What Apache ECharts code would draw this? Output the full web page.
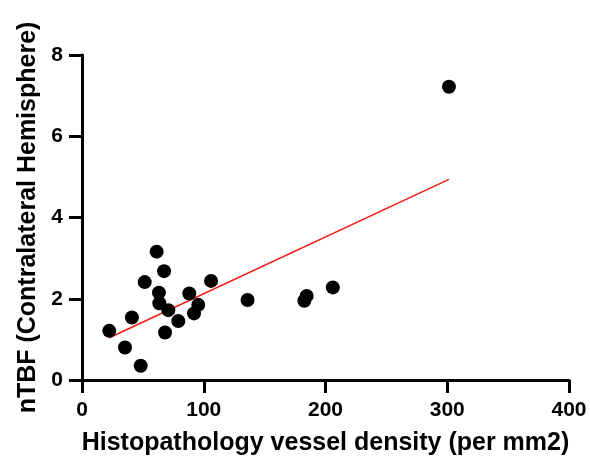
<!DOCTYPE html>
<html><head><meta charset="utf-8">
<script src="https://cdn.jsdelivr.net/npm/echarts@6/dist/echarts.min.js"></script>
<style>html,body{margin:0;padding:0;background:#fff}#c{width:590px;height:462px}</style>
</head><body><div id="c"></div>
<script>
const vesselDensity = [22.4,35.3,41,48.2,51.5,61.3,67.4,63.2,63.5,70.9,68.2,79.1,88.1,95.5,92,106,136,184.5,182.6,206,301.4];
const ntbf = [1.21,0.80,1.54,0.35,2.41,3.16,2.68,2.15,1.89,1.72,1.17,1.45,2.13,1.85,1.64,2.44,1.97,2.07,1.95,2.28,7.22];
const fitLineX = [22.4, 301.4];
const fitLineY = [1.04, 4.94];
const xTicks = [0,100,200,300,400];
const yTicks = [0,2,4,6,8];

const chart = echarts.init(document.getElementById('c'));
const font = '"Liberation Sans", Arial, sans-serif';
chart.setOption({
  animation:false,
  grid:{left:82,right:21,top:55,bottom:82,containLabel:false},
  xAxis:{type:'value',min:xTicks[0],max:xTicks[xTicks.length-1],interval:100,
    name:'Histopathology vessel density (per mm2)',nameLocation:'middle',nameGap:51,
    nameTextStyle:{fontFamily:font,fontWeight:'bold',fontSize:25,color:'#000'},
    axisLine:{show:true,lineStyle:{color:'#000',width:3}},
    axisTick:{show:true,length:13,lineStyle:{color:'#000',width:3}},
    axisLabel:{fontFamily:font,fontWeight:'bold',fontSize:21,color:'#000',margin:20},
    splitLine:{show:false}},
  yAxis:{type:'value',min:yTicks[0],max:yTicks[yTicks.length-1],interval:2,
    name:'nTBF (Contralateral Hemisphere)',nameLocation:'middle',nameGap:41,
    nameTextStyle:{fontFamily:font,fontWeight:'bold',fontSize:25,color:'#000'},
    axisLine:{show:true,lineStyle:{color:'#000',width:3}},
    axisTick:{show:true,length:13,lineStyle:{color:'#000',width:3}},
    axisLabel:{fontFamily:font,fontWeight:'bold',fontSize:21,color:'#000',margin:19},
    splitLine:{show:false}},
  series:[
    {type:'line',data:fitLineX.map((x,i)=>[x,fitLineY[i]]),symbol:'none',
     lineStyle:{color:'#f01c14',width:1.5},z:1},
    {type:'scatter',data:vesselDensity.map((x,i)=>[x,ntbf[i]]),symbol:'circle',symbolSize:14,
     itemStyle:{color:'#000',opacity:1},z:2}
  ]
});
</script></body></html>
